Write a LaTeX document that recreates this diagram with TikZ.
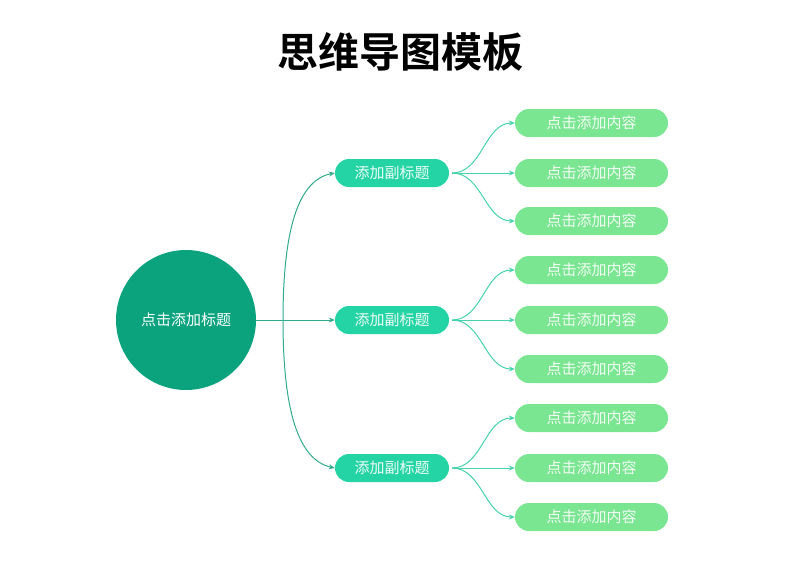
\documentclass[tikz,border=0pt]{standalone}
\usepackage{fontspec}
\setmainfont{Noto Sans CJK SC}
\newfontfamily\titlefont{Noto Sans CJK SC Bold}
\usetikzlibrary{arrows.meta}
\definecolor{cmain}{HTML}{0AA37E}
\definecolor{csub}{HTML}{25D4A4}
\definecolor{cleaf}{HTML}{7BE692}
\definecolor{lmain}{HTML}{2FAA8A}
\definecolor{lleaf}{HTML}{45D2AC}
\tikzset{
  rootnode/.style={circle,fill=cmain,minimum size=140pt,inner sep=0pt,text=white,font=\fontsize{15pt}{15pt}\selectfont},
  subnode/.style={rounded corners=14pt,fill=csub,minimum width=114pt,minimum height=28pt,inner sep=0pt,text=white!92!csub,font=\fontsize{15pt}{15pt}\selectfont},
  leafnode/.style={rounded corners=14pt,fill=cleaf,minimum width=153pt,minimum height=28pt,inner sep=0pt,text=white!90!cleaf,font=\fontsize{15pt}{15pt}\selectfont},
  mainline/.style={draw=lmain,line width=1pt,-{Stealth[length=6pt,width=5pt]}},
  leafline/.style={draw=lleaf,line width=1pt,-{Stealth[length=6pt,width=5pt]}}
}
\begin{document}
\begin{tikzpicture}[x=1pt,y=-1pt]
\useasboundingbox (0,0) rectangle (800,566);
\node[font=\titlefont\fontsize{41pt}{41pt}\selectfont] (title) at (400,52) {思维导图模板};
\node[rootnode] (root) at (186,320) {点击添加标题};
\node[subnode] (s1) at (392,173) {添加副标题};
\node[subnode] (s2) at (392,320) {添加副标题};
\node[subnode] (s3) at (392,468) {添加副标题};
\foreach \i/\y in {1/123,2/173,3/221,4/270,5/320,6/369,7/418,8/468,9/517}{
  \node[leafnode] (l\i) at (591.5,\y) {点击添加内容};
}
\coordinate (j) at (283,320);
\draw[mainline] (root.east) -- (s2.west);
\draw[mainline] (j) .. controls (283,230) and (298,180) .. (s1.west);
\draw[mainline] (j) .. controls (283,410) and (298,460) .. (s3.west);
\foreach \s/\a/\b/\c in {1/1/2/3,2/4/5/6,3/7/8/9}{
  \coordinate (o\s) at ([xshift=3pt]s\s.east);
  \draw[leafline] (o\s) .. controls +(30,0) and +(-30,0) .. (l\a.west);
  \draw[leafline] (o\s) -- (l\b.west);
  \draw[leafline] (o\s) .. controls +(30,0) and +(-30,0) .. (l\c.west);
}
\end{tikzpicture}
\end{document}
